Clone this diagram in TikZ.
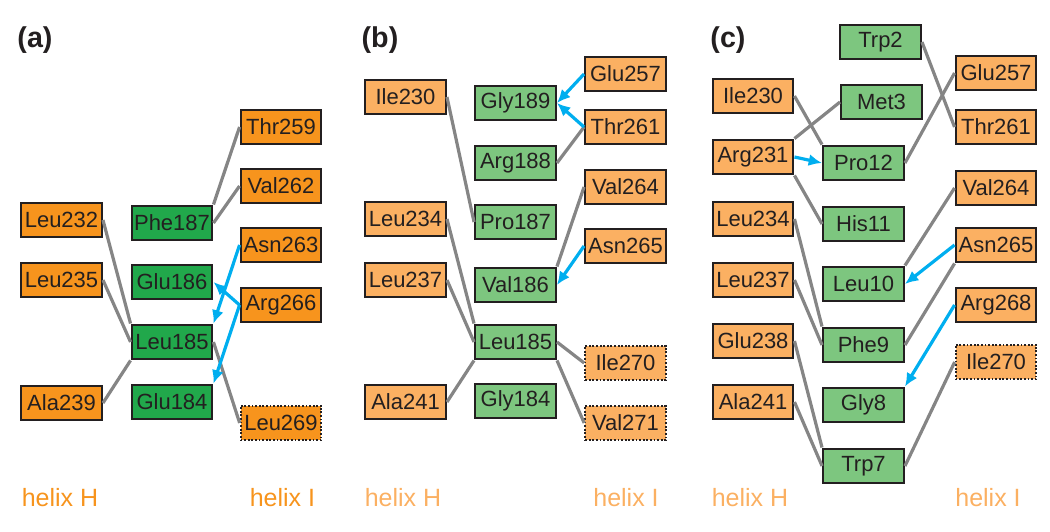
\documentclass[tikz,border=0pt]{standalone}
\usepackage{fontspec}
\setmainfont{Liberation Sans}
\usetikzlibrary{arrows.meta}

\definecolor{orA}{HTML}{F7941D}
\definecolor{grA}{HTML}{21A84B}
\definecolor{orB}{HTML}{FBB062}
\definecolor{grB}{HTML}{7DC67F}
\definecolor{edge}{HTML}{858585}
\definecolor{hb}{HTML}{00AEEF}
\definecolor{ink}{HTML}{231F20}

\begin{document}
\begin{tikzpicture}[x=0.75pt,y=-0.75pt,
    res/.style={draw=ink,text=ink,line width=1.6pt,minimum width=60.6pt,minimum height=26.1pt,
        inner sep=0pt,font=\fontsize{16.5}{18}\selectfont},
    hA/.style={res,fill=orA}, pA/.style={res,fill=grA},
    hB/.style={res,fill=orB}, pB/.style={res,fill=grB},
    far/.style={dash pattern=on 1.4pt off 1.3pt,line width=1.4pt},
    contact/.style={edge,line width=2.4pt},
    hbond/.style={hb,line width=2.4pt,-{Latex[length=10pt,width=9pt]}},
    panel/.style={font=\fontsize{21.5}{24}\selectfont\bfseries,text=ink},
    helix/.style={font=\fontsize{18.75}{22}\selectfont}]
    \useasboundingbox (0,0) rectangle (1050,532);

    % (a)
    \node (la) at (35,40) [panel] {(a)};
    \foreach \n/\y in {Leu232/220,Leu235/280,Ala239/403} {
        \node (a\n) at (61.5,\y) [hA] {\n};
    }
    \foreach \n/\y in {Phe187/223,Glu186/282,Leu185/342,Glu184/402} {
        \node (a\n) at (172,\y) [pA] {\n};
    }
    \foreach \n/\y in {Thr259/127,Val262/186,Asn263/245,Arg266/305} {
        \node (a\n) at (281,\y) [hA] {\n};
    }
    \node (aLeu269) at (281,423) [hA,far] {Leu269};
    \node (aH) at (60,498) [helix,text=orA] {helix H};
    \node (aI) at (282.5,498) [helix,text=orA] {helix I};

    \draw[contact] (aLeu232.east) -- (aLeu185.north west);
    \draw[contact] (aLeu235.east) -- (aLeu185.west);
    \draw[contact] (aAla239.east) -- (aLeu185.south west);
    \draw[contact] (aPhe187.north east) -- (aThr259.west);
    \draw[contact] (aPhe187.east) -- (aVal262.west);
    \draw[contact] (aLeu185.east) -- (aLeu269.west);
    \draw[hbond] (aAsn263.west) -- (aLeu185.north east);
    \draw[hbond] (aArg266.west) -- (aGlu186.east);
    \draw[hbond] (aArg266.west) -- (aGlu184.north east);

    % (b)
    \node (lb) at (380,40) [panel] {(b)};
    \foreach \n/\y in {Ile230/97,Leu234/219,Leu237/280,Ala241/402} {
        \node (b\n) at (405.5,\y) [hB] {\n};
    }
    \foreach \n/\y in {Gly189/103,Arg188/163,Pro187/222,Val186/285,Leu185/342,Gly184/401} {
        \node (b\n) at (515.5,\y) [pB] {\n};
    }
    \foreach \n/\y in {Glu257/74,Thr261/127,Val264/187,Asn265/246} {
        \node (b\n) at (625.5,\y) [hB] {\n};
    }
    \node (bIle270) at (625.5,363) [hB,far] {Ile270};
    \node (bVal271) at (625.5,423) [hB,far] {Val271};
    \node (bH) at (403,498) [helix,text=orB] {helix H};
    \node (bI) at (626,498) [helix,text=orB] {helix I};

    \draw[contact] (bIle230.east) -- (bPro187.west);
    \draw[contact] (bLeu234.east) -- (bLeu185.north west);
    \draw[contact] (bLeu237.east) -- (bLeu185.west);
    \draw[contact] (bAla241.east) -- (bLeu185.south west);
    \draw[contact] (bThr261.west) -- (bArg188.east);
    \draw[contact] (bVal264.west) -- (bVal186.north east);
    \draw[contact] (bLeu185.east) -- (bIle270.west);
    \draw[contact] (bLeu185.south east) -- (bVal271.west);
    \draw[hbond] (bGlu257.west) -- (bGly189.east);
    \draw[hbond] (bThr261.west) -- (bGly189.east);
    \draw[hbond] (bAsn265.west) -- (bVal186.east);

    % (c)
    \node (lc) at (728,40) [panel] {(c)};
    \foreach \n/\y in {Ile230/96,Arg231/157,Leu234/219,Leu237/280,Glu238/341,Ala241/402} {
        \node (c\n) at (753,\y) [hB] {\n};
    }
    \node (cTrp2) at (880.5,42) [pB] {Trp2};
    \node (cMet3) at (881.5,102) [pB] {Met3};
    \foreach \n/\y in {Pro12/163,His11/224,Leu10/284,Phe9/345,Gly8/405,Trp7/466} {
        \node (c\n) at (863.5,\y) [pB] {\n};
    }
    \foreach \n/\y in {Glu257/73,Thr261/127,Val264/188,Asn265/245,Arg268/305} {
        \node (c\n) at (996,\y) [hB] {\n};
    }
    \node (cIle270) at (996,362) [hB,far] {Ile270};
    \node (cH) at (750,498) [helix,text=orB] {helix H};
    \node (cI) at (988,498) [helix,text=orB] {helix I};

    \draw[contact] (cTrp2.east) -- (cThr261.west);
    \draw[contact] (cMet3.west) -- (cArg231.north east);
    \draw[contact] (cIle230.east) -- (cPro12.north west);
    \draw[contact] (cGlu257.west) -- (cPro12.east);
    \draw[contact] (cArg231.south east) -- (cHis11.west);
    \draw[contact] (cLeu234.east) -- (cPhe9.north west);
    \draw[contact] (cLeu237.east) -- (cPhe9.west);
    \draw[contact] (cVal264.west) -- (cLeu10.north east);
    \draw[contact] (cAsn265.south west) -- (cPhe9.east);
    \draw[contact] (cGlu238.east) -- (cTrp7.north west);
    \draw[contact] (cAla241.east) -- (cTrp7.west);
    \draw[contact] (cIle270.west) -- (cTrp7.east);
    \draw[hbond] (cArg231.east) -- (cPro12.west);
    \draw[hbond] (cAsn265.west) -- (cLeu10.east);
    \draw[hbond] (cArg268.west) -- (cGly8.north east);
\end{tikzpicture}
\end{document}
